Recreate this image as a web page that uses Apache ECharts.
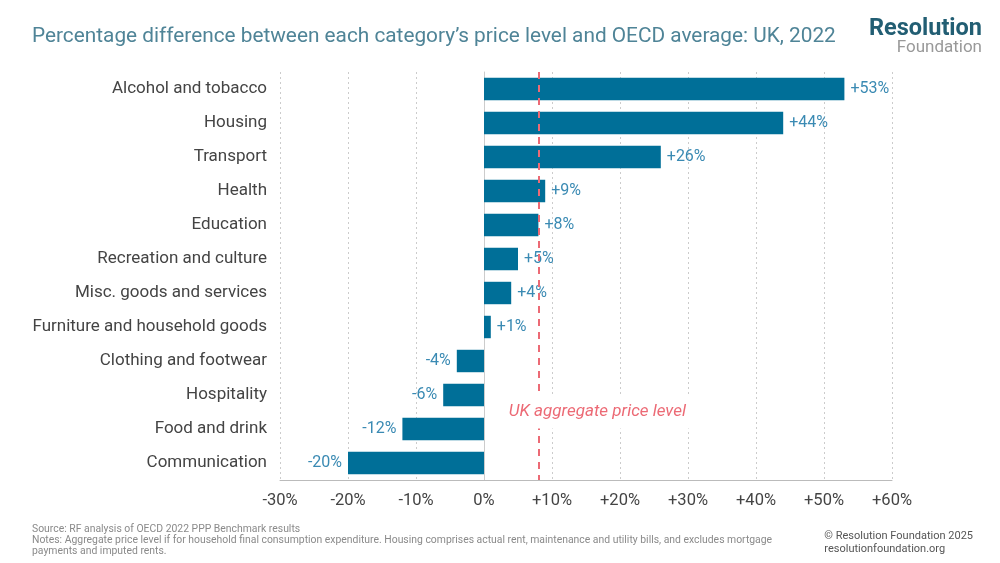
<!DOCTYPE html>
<html>
<head>
<meta charset="utf-8">
<script src="https://cdn.jsdelivr.net/npm/echarts@6/dist/echarts.min.js"></script>
<style>
html,body{margin:0;padding:0;background:#fff;}
#chart{width:1000px;height:563px;}
</style>
</head>
<body>
<div id="chart"></div>
<script>
const categories = ["Alcohol and tobacco","Housing","Transport","Health","Education","Recreation and culture","Misc. goods and services","Furniture and household goods","Clothing and footwear","Hospitality","Food and drink","Communication"];
const values = [53, 44, 26, 9, 8, 5, 4, 1, -4, -6, -12, -20];
const aggregateLevel = 8;
const aggregateLabel = "UK aggregate price level";
const xTicks = [-30, -20, -10, 0, 10, 20, 30, 40, 50, 60];

const fmt = v => (v > 0 ? '+' + v + '%' : v + '%');
const FONT = 'Roboto';

const chart = echarts.init(document.getElementById('chart'), null, {renderer: 'canvas'});
chart.setOption({
  animation: false,
  backgroundColor: '#fff',
  textStyle: {fontFamily: FONT},
  graphic: [
    {type: 'text', left: 32, top: 26, style: {text: 'Percentage difference between each category\u2019s price level and OECD average: UK, 2022',
      font: 'normal 20.8px Roboto', fill: '#4f8497'}},
    {type: 'text', right: 18, top: 17, style: {text: 'Resolution', font: 'bold 23.5px Roboto', fill: '#225e73'}},
    {type: 'text', right: 18, top: 39, style: {text: 'Foundation', font: 'normal 17px Roboto', fill: '#999'}},
    {type: 'text', left: 32, top: 524, style: {text: 'Source: RF analysis of OECD 2022 PPP Benchmark results\nNotes: Aggregate price level if for household final consumption expenditure. Housing comprises actual rent, maintenance and utility bills, and excludes mortgage\npayments and imputed rents.',
      font: 'normal 10.4px Roboto', fill: '#8a8a8a', lineHeight: 10.8}},
    {type: 'text', right: 27, top: 529, style: {text: '\u00a9 Resolution Foundation 2025\nresolutionfoundation.org', align: 'right',
      font: 'normal 11px Roboto', fill: '#555', lineHeight: 13.5}}
  ],
  grid: {left: 280, right: 108, top: 72, bottom: 83, containLabel: false},
  xAxis: {
    type: 'value', min: xTicks[0], max: xTicks[xTicks.length - 1], interval: 10,
    axisLine: {show: true, lineStyle: {color: '#bbb', width: 1}},
    axisTick: {show: false},
    axisLabel: {formatter: fmt, fontFamily: FONT, fontSize: 16.5, color: '#444', margin: 12},
    splitLine: {show: true, lineStyle: {color: '#ccc', type: [2, 3], width: 1}}
  },
  yAxis: {
    type: 'category', data: categories, inverse: true,
    axisLine: {show: true, onZero: true, lineStyle: {color: '#ccc', width: 1}},
    axisTick: {show: false},
    axisLabel: {fontFamily: FONT, fontSize: 17, color: '#444', margin: 13}
  },
  series: [{
    type: 'bar',
    barWidth: '66%',
    itemStyle: {color: '#006f98'},
    data: values.map(v => ({
      value: v,
      label: {show: true, position: v >= 0 ? 'right' : 'left', distance: 6,
        formatter: p => fmt(p.value), fontFamily: FONT, fontSize: 16, color: '#3a8ab3'}
    })),
    markLine: {
      silent: true, symbol: 'none', z: 5,
      lineStyle: {color: '#ec6a75', type: [7, 6], width: 2},
      label: {show: false},
      data: [{xAxis: aggregateLevel}]
    },
    markPoint: {
      silent: true, symbol: 'circle', symbolSize: 0, z: 10,
      data: [{coord: [aggregateLevel, categories[9]],
        label: {show: true, position: 'inside', offset: [59, 17], formatter: aggregateLabel,
          fontFamily: FONT, fontStyle: 'italic', fontSize: 17, color: '#ec6a75',
          backgroundColor: '#fff', padding: [8, 6]}}]
    }
  }]
});
</script>
</body>
</html>
